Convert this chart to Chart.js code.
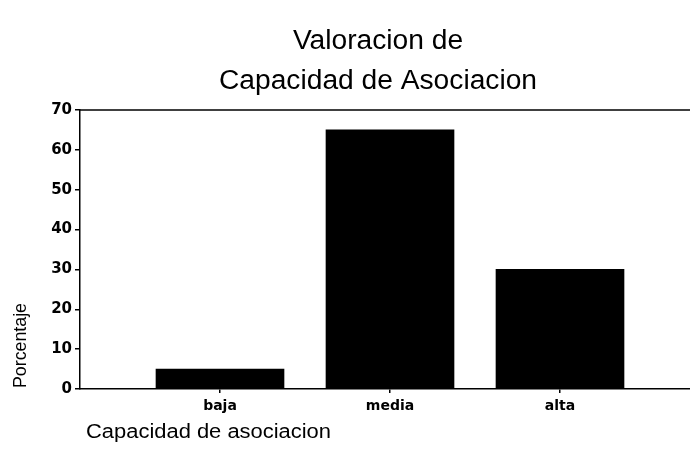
<!DOCTYPE html>
<html>
<head>
<meta charset="utf-8">
<script src="https://cdn.jsdelivr.net/npm/chart.js@4/dist/chart.umd.min.js"></script>
<style>
html,body{margin:0;padding:0;background:#fff;}
#wrap{width:690px;height:458px;position:relative;}
</style>
</head>
<body>
<div id="wrap"><canvas id="c" width="690" height="458"></canvas></div>
<script>
const categories = ['baja', 'media', 'alta'];
const percentages = [5, 65, 30];
const yTicks = [0, 10, 20, 30, 40, 50, 60, 70];
const titleLines = ['Valoracion de', 'Capacidad de Asociacion'];
const yTitle = 'Porcentaje';
const xTitle = 'Capacidad de asociacion';

const FONT = "'Liberation Sans', Arial, Helvetica, sans-serif";
const TICKFONT = "'DejaVu Sans', 'Liberation Sans', Arial, sans-serif";

function scaledText(ctx, text, x, y, sx, align) {
  const w = ctx.measureText(text).width * sx;
  ctx.save();
  ctx.translate(align === 'center' ? x - w / 2 : x, y);
  ctx.scale(sx, 1);
  ctx.textAlign = 'left';
  ctx.fillText(text, 0, 0);
  ctx.restore();
}

const textPlugin = {
  id: 'texts',
  afterDraw(chart) {
    const ctx = chart.ctx;
    const ca = chart.chartArea;
    ctx.save();
    ctx.fillStyle = '#000';
    ctx.strokeStyle = '#000';
    ctx.lineWidth = 1.5;
    ctx.beginPath();
    ctx.moveTo(ca.left, ca.top);
    ctx.lineTo(chart.width, ca.top);
    ctx.stroke();
    ctx.textBaseline = 'alphabetic';
    // title
    ctx.font = '27px ' + FONT;
    const tsx = 318 / ctx.measureText(titleLines[1]).width;
    scaledText(ctx, titleLines[0], 378, 49, tsx, 'center');
    scaledText(ctx, titleLines[1], 378, 89, tsx, 'center');
    // x title
    ctx.font = '20px ' + FONT;
    scaledText(ctx, xTitle, 86, 438, 245 / ctx.measureText(xTitle).width, 'left');
    // y title
    ctx.save();
    ctx.translate(26, 388);
    ctx.rotate(-Math.PI / 2);
    ctx.font = '18px ' + FONT;
    scaledText(ctx, yTitle, 0, 0, 85 / ctx.measureText(yTitle).width, 'left');
    ctx.restore();
    ctx.restore();
  }
};

new Chart(document.getElementById('c'), {
  type: 'bar',
  data: {
    datasets: [{
      data: categories.map((c, i) => ({ x: i + 1, y: percentages[i] })),
      backgroundColor: '#000',
      borderWidth: 0,
      barThickness: 128
    }]
  },
  options: {
    responsive: false,
    animation: false,
    layout: { padding: { top: 110, right: 0, bottom: 0, left: 0 } },
    plugins: { legend: { display: false }, tooltip: { enabled: false }, title: { display: false } },
    scales: {
      x: {
        type: 'linear',
        offset: false,
        min: 1 - 140 / 170,
        max: 3 + 130 / 170,
        afterBuildTicks(scale) { scale.ticks = categories.map((c, i) => ({ value: i + 1 })); },
        afterFit(scale) { scale.height = 69; },
        grid: { display: true, offset: false, drawOnChartArea: false, drawTicks: true, tickLength: 4, color: '#000', lineWidth: 1.5 },
        border: { display: true, color: '#000', width: 1.5 },
        ticks: {
          color: '#000',
          padding: 5,
          maxRotation: 0,
          autoSkip: false,
          font: { family: TICKFONT, size: 14, weight: 'bold' },
          callback: (v) => categories[v - 1] || ''
        }
      },
      y: {
        min: 0,
        max: 70,
        afterBuildTicks(scale) { scale.ticks = yTicks.map(v => ({ value: v })); },
        afterFit(scale) { scale.width = 80; },
        grid: { display: true, drawOnChartArea: false, drawTicks: true, tickLength: 5, color: '#000', lineWidth: 1.5 },
        border: { display: true, color: '#000', width: 1.5 },
        ticks: {
          color: '#000',
          padding: 3,
          font: { family: TICKFONT, size: 15, weight: 'bold' }
        }
      }
    }
  },
  plugins: [textPlugin]
});
</script>
</body>
</html>
